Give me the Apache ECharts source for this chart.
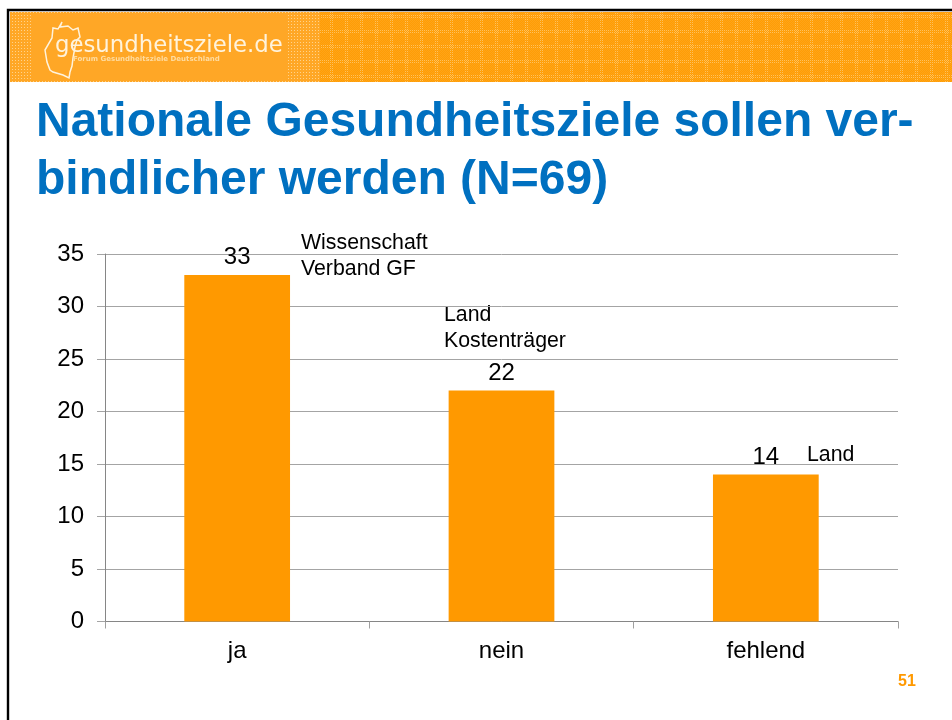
<!DOCTYPE html>
<html><head><meta charset="utf-8">
<style>html,body{margin:0;padding:0;background:#fff}#c{width:952px;height:720px}</style>
<script src="https://cdn.jsdelivr.net/npm/echarts@6/dist/echarts.min.js"></script>
</head><body><div id="c"></div>
<script>
const categories = ['ja', 'nein', 'fehlend'];
const values = [33, 22, 14];
const yTicks = [0, 5, 10, 15, 20, 25, 30, 35];
const titleLines = ['Nationale Gesundheitsziele sollen ver-', 'bindlicher werden (N=69)'];
const notes = [['Wissenschaft', 'Verband GF'], ['Land', 'Kostenträger'], ['Land']];
const logoText = 'gesundheitsziele.de';
const logoSub = 'Forum Gesundheitsziele Deutschland';
const pageNumber = '51';

const font = '"Liberation Sans", Arial, sans-serif';
const orange = '#ff9900';

function bannerPattern() {
  const cv = document.createElement('canvas');
  cv.width = 30; cv.height = 30;
  const g = cv.getContext('2d');
  g.fillStyle = '#ff9d05'; g.fillRect(0, 0, 30, 30);
  for (let i = 0; i < 30; i++) {
    for (let j = 0; j < 30; j++) {
      if ((i + j) % 2 === 0) { g.fillStyle = 'rgba(255,190,90,0.22)'; g.fillRect(i, j, 1, 1); }
      const line = i % 15 === 0 || i % 15 === 2 || j % 15 === 0 || j % 15 === 2;
      if (line && (i + j) % 2 === 0) { g.fillStyle = 'rgba(255,228,180,0.45)'; g.fillRect(i, j, 1, 1); }
    }
  }
  return cv;
}
function stripPattern() {
  const cv = document.createElement('canvas');
  cv.width = 3; cv.height = 3;
  const g = cv.getContext('2d');
  g.fillStyle = '#ffa726'; g.fillRect(0, 0, 3, 3);
  g.fillStyle = 'rgba(255,238,205,0.6)';
  g.fillRect(0, 0, 1, 1);
  return cv;
}

const germany = [[62,22],[60,27],[68,26],[73,30],[78,28],[80,37],[77,40],[75,47],[73,58],[72,66],[70,72],[69,78],[63,75],[53,72],[50,70],[47,62],[45,50],[52,38],[53,28],[58,29]];

const chart = echarts.init(document.getElementById('c'), null, {renderer: 'canvas'});
chart.setOption({
  animation: false,
  backgroundColor: '#fff',
  grid: {left: 105, right: 54, top: 254, height: 367.5, containLabel: false},
  xAxis: {
    type: 'category', data: categories,
    axisLine: {lineStyle: {color: '#868686', width: 1}},
    axisTick: {show: true, length: 7, alignWithLabel: false, lineStyle: {color: '#a0a0a0'}},
    axisLabel: {color: '#000', fontFamily: font, fontSize: 24, margin: 18}
  },
  yAxis: {
    type: 'value', min: 0, max: yTicks[yTicks.length - 1], interval: yTicks[1] - yTicks[0],
    axisLine: {show: true, lineStyle: {color: '#868686', width: 1}},
    axisTick: {show: true, length: 8, lineStyle: {color: '#a4a4a4', width: 1}},
    splitLine: {show: true, lineStyle: {color: '#a4a4a4', width: 1}},
    axisLabel: {color: '#000', fontFamily: font, fontSize: 24, margin: 21, padding: [2, 0, 0, 0]}
  },
  series: [{
    type: 'bar', data: values, barWidth: '40%',
    itemStyle: {color: orange},
    label: {show: true, position: 'top', distance: 5.5, color: '#000', fontFamily: font, fontSize: 24}
  }],
  graphic: [
    {type: 'rect', z: -1, shape: {x: 10, y: 12, width: 942, height: 70}, style: {fill: {image: bannerPattern(), repeat: 'repeat'}}},
    {type: 'rect', z: 0, shape: {x: 10, y: 12, width: 310, height: 70}, style: {fill: {image: stripPattern(), repeat: 'repeat'}}},
    {type: 'rect', z: 0, shape: {x: 32, y: 13, width: 254, height: 67}, style: {fill: '#ffa726'}},
    {type: 'polygon', z: 1, shape: {points: germany}, style: {stroke: '#fff3dc', lineWidth: 1.5, fill: 'none'}},
    {type: 'rect', z: 3, shape: {x: 8, y: 10, width: 960, height: 730}, style: {fill: 'none', stroke: '#000', lineWidth: 2.4}},
    {type: 'text', z: 4, x: 55, y: 35, style: {text: logoText, fill: '#fff3dc', font: '22.8px "DejaVu Sans", sans-serif'}},
    {type: 'text', z: 4, x: 73, y: 56, style: {text: logoSub, fill: '#ffdca0', font: 'bold 7px "DejaVu Sans", sans-serif', letterSpacing: 1.95}},
    {type: 'text', x: 36, y: 99, style: {text: titleLines[0], fill: '#0070c0', font: 'bold 48px ' + font}},
    {type: 'text', x: 36, y: 157, style: {text: titleLines[1], fill: '#0070c0', font: 'bold 48px ' + font}},
    {type: 'text', x: 301, y: 230, style: {text: notes[0].join('\n'), fill: '#000', font: '21.3px ' + font, lineHeight: 26}},
    {type: 'text', x: 444, y: 302, style: {text: notes[1].join('\n'), fill: '#000', font: '21.3px ' + font, lineHeight: 26}},
    {type: 'text', x: 807, y: 442, style: {text: notes[2].join('\n'), fill: '#000', font: '21.3px ' + font, lineHeight: 26}},
    {type: 'text', x: 898, y: 674, style: {text: pageNumber, fill: orange, font: 'bold 16px ' + font}}
  ]
});
</script></body></html>
